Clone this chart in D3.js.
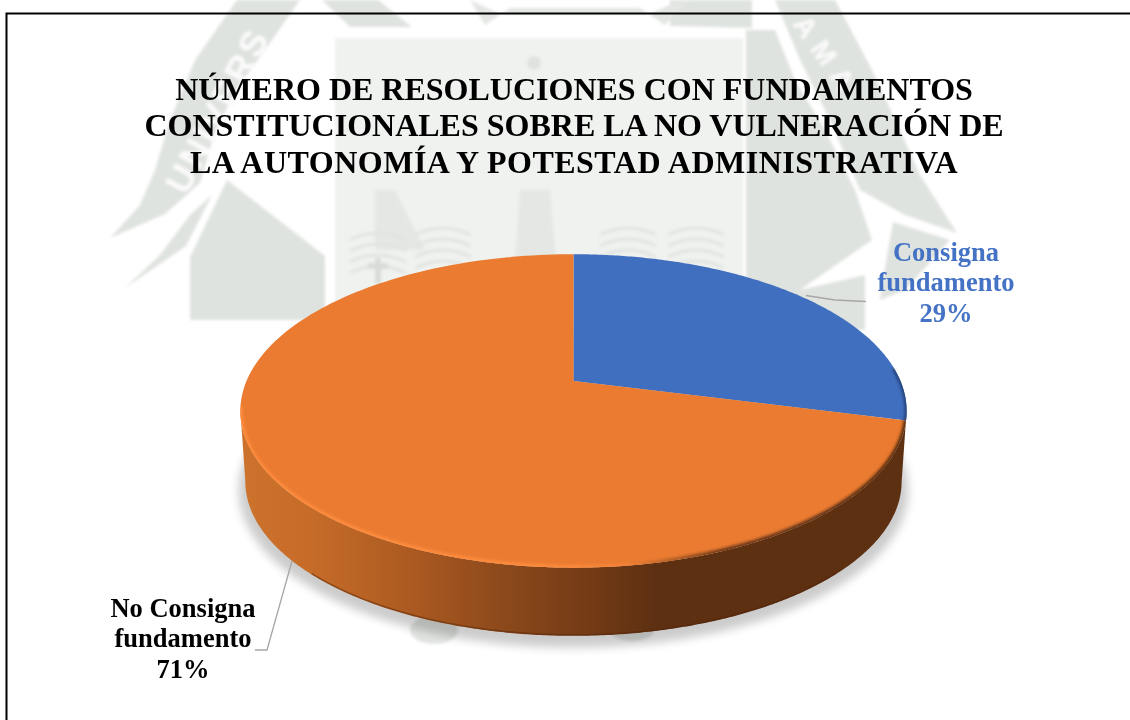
<!DOCTYPE html>
<html lang="es">
<head>
<meta charset="utf-8">
<title>Resoluciones con fundamentos constitucionales</title>
<script src="https://cdn.jsdelivr.net/npm/d3@7/dist/d3.min.js"></script>
<style>
  html, body { margin: 0; padding: 0; background: #fff; overflow: hidden; }
  svg { display: block; font-family: "Liberation Serif", serif; }
</style>
</head>
<body>
<svg id="chart" width="1130" height="720"></svg>
<script>
// Chart content
const categories = ["Consigna fundamento", "No Consigna fundamento"];
const values = [29, 71];
const sliceColors = ["#416fbf", "#ea7b31"];
const labelColors = ["#4472c4", "#000000"];
const titleLines = [
  "NÚMERO DE RESOLUCIONES CON FUNDAMENTOS",
  "CONSTITUCIONALES SOBRE LA NO VULNERACIÓN DE",
  "LA AUTONOMÍA Y POTESTAD ADMINISTRATIVA"
];
const titleTracking = [0, 0, 0.5];

const svg = d3.select("#chart");
const defs = svg.append("defs");

// Filters and gradients
const blur = (id, sd) => defs.append("filter").attr("id", id)
  .attr("x", "-20%").attr("y", "-20%").attr("width", "140%").attr("height", "140%")
  .append("feGaussianBlur").attr("stdDeviation", sd);
blur("soft", 1.6);
blur("rim", 1.4);
blur("shade", 5);

const stops = (id, x1, x2, list) => {
  const g = defs.append("linearGradient").attr("id", id)
    .attr("gradientUnits", "userSpaceOnUse")
    .attr("x1", x1).attr("x2", x2).attr("y1", 0).attr("y2", 0);
  list.forEach(([o, c]) => g.append("stop").attr("offset", o).attr("stop-color", c));
};
stops("wallFill", 245, 905, [
  [0, "#cc722c"], [0.1, "#c66c29"], [0.25, "#ac5a21"], [0.4, "#8a481b"],
  [0.52, "#743b15"], [0.62, "#5e3012"], [1, "#5e3012"]
]);
stops("rimStroke", 240, 907, [
  [0, "#ff8c3c"], [0.45, "#ff8c3c"], [0.58, "#f58336"], [0.72, "#6a3615"], [1, "#4f2a10"]
]);

// University crest behind the chart, in a pale grey-green
const crest = svg.append("g").attr("filter", "url(#soft)");
const bandColor = "#dfe3df";
const paleColor = "#f0f2f0";
const poly = (pts, fill) => crest.append("polygon").attr("points", pts.join(" ")).attr("fill", fill);

poly(["335,38", "743,38", "743,330", "335,330"], paleColor);
poly(["237,0", "300,0", "272,40", "236,90", "215,132", "200,183", "165,214", "110,238", "140,205", "155,170", "170,120", "195,60"], bandColor);
poly(["227,180", "325,256", "325,320", "190,320", "190,257"], bandColor);
poly(["212,195", "186,246", "125,288", "160,255", "190,215"], bandColor);
poly(["322,0", "378,0", "412,27", "350,27"], bandColor);
poly(["670,0", "752,0", "752,28", "670,26"], bandColor);
poly(["775,0", "835,0", "872,70", "900,130", "920,175", "957,233", "905,215", "860,190", "830,120", "800,60"], bandColor);
poly(["746,30", "775,30", "795,80", "825,130", "855,190", "872,240", "800,290", "865,275", "865,330", "746,330"], bandColor);
poly(["893,222", "950,240", "905,290", "880,300", "888,250"], bandColor);
poly(["470,0", "500,14", "650,14", "680,0", "690,0", "665,25", "640,8", "510,8", "485,25"], "#e3e6e3");

// Lettering that runs along the crest's banners
const bannerText = (txt, x, y, angle, size, spacing) => crest.append("text")
  .attr("transform", `translate(${x},${y}) rotate(${angle})`)
  .attr("font-family", "Liberation Sans, sans-serif").attr("font-weight", "bold")
  .attr("font-size", size).attr("letter-spacing", spacing).attr("fill", "#fbfbfb").text(txt);
bannerText("UNIVERS", 186, 196, -62, 36, 3);
bannerText("AMA", 792, 24, 55, 28, 10);

// Pale tower and open books on the crest
crest.append("circle").attr("cx", 534).attr("cy", 63).attr("r", 7).attr("fill", "#dfe3df");
poly(["520,190", "550,190", "556,260", "515,260"], "#e4e7e4");
poly(["375,190", "395,190", "425,250", "375,250"], "#e4e7e4");
const bookLine = crest.append("g").attr("fill", "none").attr("stroke", "#e0e3e0").attr("stroke-width", 3);
[[350, 240], [415, 235], [600, 235], [668, 235]].forEach(([bx, by]) => {
  d3.range(0, 4).forEach(i => {
    bookLine.append("path").attr("d", `M${bx},${by + i * 11} q28,-14 56,0`);
  });
});
crest.append("path").attr("d", "M378,258 v26 M368,266 h20").attr("stroke", "#d8dcd8").attr("stroke-width", 6).attr("fill", "none");
crest.append("ellipse").attr("cx", 434).attr("cy", 630).attr("rx", 24).attr("ry", 14).attr("fill", "#e2e5e2");
crest.append("ellipse").attr("cx", 632).attr("cy", 630).attr("rx", 22).attr("ry", 11).attr("fill", "#e2e5e2");

// Open frame around the figure
svg.append("path")
  .attr("d", "M1130,13.5 H6.5 V720")
  .attr("fill", "none").attr("stroke", "#000").attr("stroke-width", 2);

// Title
const title = svg.append("text")
  .attr("text-anchor", "middle").attr("font-size", 32).attr("font-weight", "bold").attr("fill", "#000");
titleLines.forEach((line, i) => {
  title.append("tspan").attr("x", 574).attr("y", 100 + i * 36.4)
    .attr("letter-spacing", titleTracking[i]).text(line);
});

// Pie in perspective: a unit disc mapped onto the tilted plane
const cx = 573.5, apexY = 381, tilt = 0.191;
const radiusX = d3.scaleLinear().domain([0, 1]).range([0, 327]);
const radiusY = d3.scaleLinear().domain([0, 1]).range([0, 151]);
const depth = 71;

const project = (u, v, scale = 1, drop = 0) => {
  const w = 1 + tilt * v;
  return [cx + radiusX(u * scale) / w, apexY - radiusY(v * scale) / w + drop];
};
const onRim = (a, scale, drop) => project(Math.sin(a), Math.cos(a), scale, drop);
const sweep = (a0, a1, n = 180) => d3.range(n + 1).map(i => a0 + (a1 - a0) * i / n);
const line = d3.line();

const full = sweep(0, Math.PI * 2, 720);
const topRim = full.map(a => onRim(a, 1, 0));
const iRight = d3.maxIndex(topRim, p => p[0]);
const iLeft = d3.minIndex(topRim, p => p[0]);
const frontAngles = sweep(full[iRight], full[iLeft], 360);

// Drop shadow on the page
svg.append("path")
  .attr("d", line(full.map(a => onRim(a, 1.005, depth + 8))) + "Z")
  .attr("fill", "#000").attr("opacity", 0.2).attr("filter", "url(#shade)");

// Side wall: front half of the top rim joined with the front half of the base
const wallPts = frontAngles.map(a => onRim(a, 1, 0))
  .concat(frontAngles.slice().reverse().map(a => onRim(a, 0.985, depth)));
svg.append("path").attr("d", line(wallPts) + "Z").attr("fill", "url(#wallFill)");
svg.append("path")
  .attr("d", line(sweep(full[iRight] + 0.6, full[iLeft] - 0.6, 120).map(a => onRim(a, 0.985, depth - 1))))
  .attr("fill", "none").attr("stroke", "#4f2408").attr("stroke-opacity", 0.45).attr("stroke-width", 1.5);

// Top face slices
const arcs = d3.pie().sort(null)(values);
svg.append("g").selectAll("path").data(arcs).join("path")
  .attr("d", d => line([[cx, apexY]].concat(sweep(d.startAngle, d.endAngle).map(a => onRim(a, 1, 0)))) + "Z")
  .attr("fill", (d, i) => sliceColors[i]);

// Bevel along the front of each slice, clipped to the top face
const clip = defs.append("clipPath").attr("id", "topFace");
clip.append("path").attr("d", line(topRim) + "Z");
const bevel = svg.append("g").attr("clip-path", "url(#topFace)")
  .attr("fill", "none").attr("stroke-width", 6);
const split = arcs[0].endAngle;
bevel.append("path")
  .attr("d", line(sweep(full[iRight] - 0.28, split, 60).map(a => onRim(a, 1.002, 0))))
  .attr("stroke", "#25447c").attr("filter", "url(#rim)");
bevel.append("path")
  .attr("d", line(sweep(split, full[iLeft] + 0.03, 240).map(a => onRim(a, 1.002, 0))))
  .attr("stroke", "url(#rimStroke)").attr("filter", "url(#rim)");

// Leader lines
const leaders = svg.append("g").attr("fill", "none").attr("stroke", "#a6a6a6").attr("stroke-width", 1.3);
leaders.append("path").attr("d", "M806,295.5 L835,300 L866,301.5");
leaders.append("path").attr("d", "M292,561 L267,650 L255,650");

// Slice labels, each with name and percentage
const labelAnchors = [{ x: 946, y: 261 }, { x: 183, y: 617 }];
const labelLines = [
  ["Consigna", "fundamento"],
  ["No Consigna", "fundamento"]
];
categories.forEach((name, i) => {
  const t = svg.append("text").attr("text-anchor", "middle").attr("font-size", 26.5)
    .attr("font-weight", "bold").attr("fill", labelColors[i]).attr("aria-label", name);
  labelLines[i].concat(`${values[i]}%`).forEach((txt, j) => {
    t.append("tspan").attr("x", labelAnchors[i].x).attr("y", labelAnchors[i].y + j * 30.3).text(txt);
  });
});
</script>
</body>
</html>
